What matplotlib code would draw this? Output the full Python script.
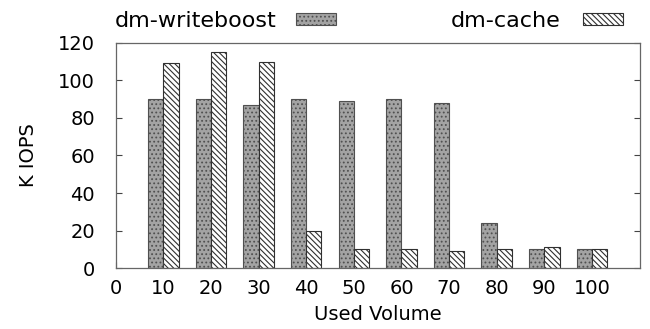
import numpy as np
import matplotlib
matplotlib.use('Agg')
from matplotlib import pyplot as plt

plt.rcParams['font.family'] = ['DejaVu Sans']
plt.rcParams['hatch.linewidth'] = 0.8
plt.rcParams['hatch.color'] = '#6a6a6a'

# data
volume = [10, 20, 30, 40, 50, 60, 70, 80, 90, 100]
writeboost = [90, 90, 87, 90, 89, 90, 88, 24, 10, 10]
dmcache = [109, 115, 110, 20, 10, 10, 9, 10, 11, 10]

x = np.array(volume, dtype=float)
w = 3.2

f = plt.figure(figsize=(6.5, 3.29), dpi=100)
ax = f.add_axes([0.178, 0.185, 0.806, 0.685])

b1 = ax.bar(x - w/2, writeboost, w, color='#a3a3a3', edgecolor='#505050',
            hatch='....', lw=0.8, label='dm-writeboost')
b2 = ax.bar(x + w/2, dmcache, w, color='white', edgecolor='#303030',
            hatch='\\\\\\\\\\\\', lw=0.8, label='dm-cache')

ax.set_xlim(0, 110)
ax.set_ylim(0, 120)
ax.set_xticks(range(0, 101, 10))
ax.set_yticks(range(0, 121, 20))
ax.tick_params(direction='in', length=4, color='#444444', labelsize=14,
               right=True)
ax.tick_params(axis='y', pad=15)
ax.tick_params(axis='x', pad=8)
for s in ax.spines.values():
    s.set_color('#666666')
    s.set_linewidth(0.9)

ax.set_xlabel('Used Volume', size=14, labelpad=5)
ax.set_ylabel('K IOPS', size=14, labelpad=14)

# one legend per entry so each box sits where the reference has it
leg1 = ax.legend([b1], ['dm-writeboost'], loc='center right',
                 bbox_to_anchor=(336/650, 1 - 21/329), bbox_transform=f.transFigure,
                 frameon=False, markerfirst=False, fontsize=16, handlelength=1.8,
                 handleheight=0.5, handletextpad=0.9, borderpad=0, borderaxespad=0)
ax.add_artist(leg1)
ax.legend([b2], ['dm-cache'], loc='center right',
          bbox_to_anchor=(623/650, 1 - 21/329), bbox_transform=f.transFigure,
          frameon=False, markerfirst=False, fontsize=16, handlelength=1.8,
          handleheight=0.5, handletextpad=1.0, borderpad=0, borderaxespad=0)

plt.savefig('out.png', dpi=100)
